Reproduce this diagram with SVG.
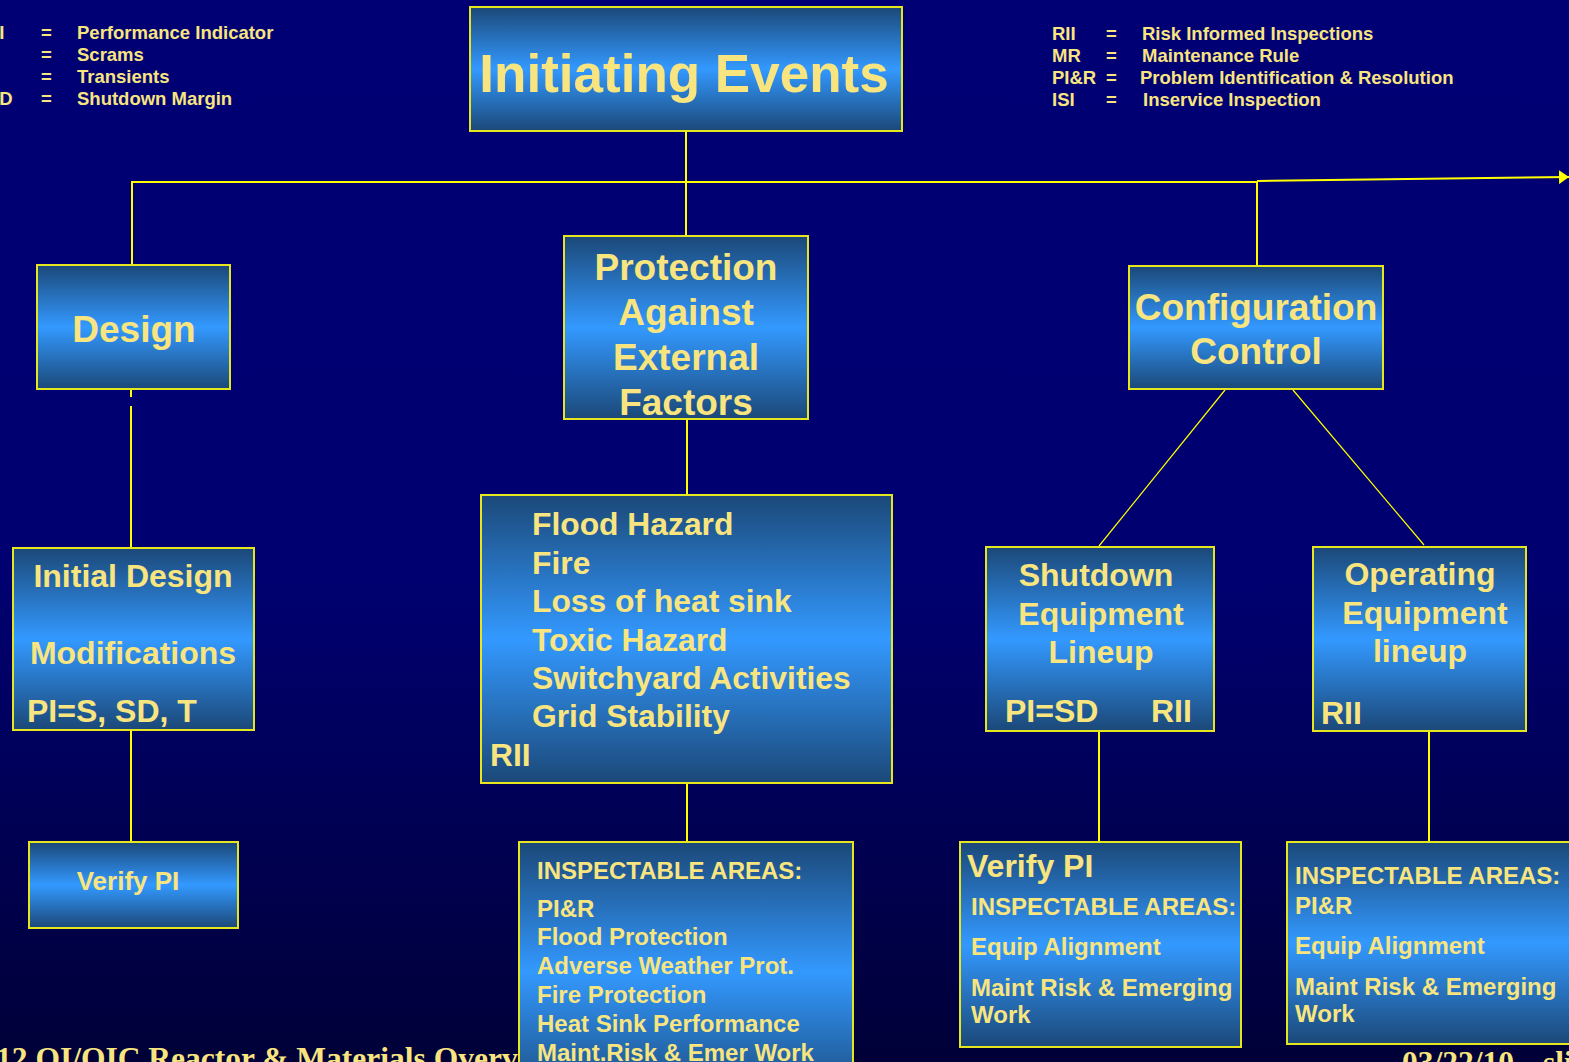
<svg xmlns="http://www.w3.org/2000/svg" width="1569" height="1062" viewBox="0 0 1569 1062">
  <defs>
    <linearGradient id="bg" x1="0" y1="0" x2="0" y2="1">
      <stop offset="0" stop-color="#000074"/>
      <stop offset="0.55" stop-color="#000070"/>
      <stop offset="1" stop-color="#000038"/>
    </linearGradient>
    <linearGradient id="boxGrad" x1="0" y1="0" x2="0" y2="1">
      <stop offset="0" stop-color="#1b4878"/>
      <stop offset="0.5" stop-color="#3399ff"/>
      <stop offset="1" stop-color="#1b4878"/>
    </linearGradient>
    <marker id="arrow" viewBox="0 0 10 14" refX="10" refY="7" markerWidth="10" markerHeight="14" markerUnits="userSpaceOnUse" orient="auto">
      <path d="M0,0 L10,7 L0,14 Z" fill="#ffff00"/>
    </marker>
    <style>
      .box { fill: url(#boxGrad); stroke: #e6e61e; stroke-width: 2; }
      .t { font-family: "Liberation Sans", Arial, sans-serif; font-weight: bold; fill: #f8e580; }
      .c { text-anchor: middle; }
      .leg { font-size: 18.5px; }
      .h37 { font-size: 37px; }
      .h32 { font-size: 32px; }
      .h24 { font-size: 24px; }
      .foot { font-family: "Liberation Serif", "Times New Roman", serif; font-weight: bold; fill: #f8e580; font-size: 31.5px; }
      .wire { stroke: #ffff00; stroke-width: 2; fill: none; }
      .thin { stroke: #ffff00; stroke-width: 1.2; fill: none; }
    </style>
  </defs>

  <rect x="0" y="0" width="1569" height="1062" fill="url(#bg)"/>

  <!-- abbreviation legends (left column runs past the left edge) -->
  <g id="legend-left" class="t leg">
    <text x="-13" y="39">PI</text><text x="41" y="39">=</text><text x="77" y="39">Performance Indicator</text>
    <text x="-13" y="61">S</text><text x="41" y="61">=</text><text x="77" y="61">Scrams</text>
    <text x="-13" y="83">T</text><text x="41" y="83">=</text><text x="77" y="83">Transients</text>
    <text x="-13" y="105">SD</text><text x="41" y="105">=</text><text x="77" y="105">Shutdown Margin</text>
  </g>
  <g id="legend-right" class="t leg">
    <text x="1052" y="40">RII</text><text x="1106" y="40">=</text><text x="1142" y="40">Risk Informed Inspections</text>
    <text x="1052" y="62">MR</text><text x="1106" y="62">=</text><text x="1142" y="62">Maintenance Rule</text>
    <text x="1052" y="84">PI&amp;R</text><text x="1106" y="84">=</text><text x="1140" y="84">Problem Identification &amp; Resolution</text>
    <text x="1052" y="106">ISI</text><text x="1106" y="106">=</text><text x="1143" y="106">Inservice Inspection</text>
  </g>

  <!-- footer -->
  <text id="footer-left" class="foot" x="-4" y="1069">12 OI/OIC Reactor &amp; Materials Overview</text>
  <text id="footer-right" class="foot" x="1402" y="1073">03/22/10<tspan x="1543">slide</tspan></text>

  <!-- connectors -->
  <g id="connectors">
    <line class="wire" x1="686" y1="132" x2="686" y2="236"/>
    <polyline class="wire" points="132,265 132,182 1257,182 1257,265"/>
    <line class="wire" x1="1257" y1="181" x2="1569" y2="177" marker-end="url(#arrow)"/>
    <line class="wire" x1="131" y1="390" x2="131" y2="397"/>
    <line class="wire" x1="131" y1="406" x2="131" y2="547"/>
    <line class="wire" x1="131" y1="731" x2="131" y2="842"/>
    <line class="wire" x1="687" y1="419" x2="687" y2="494"/>
    <line class="wire" x1="687" y1="784" x2="687" y2="842"/>
    <line class="thin" x1="1225" y1="390" x2="1099" y2="546"/>
    <line class="thin" x1="1293" y1="390" x2="1424" y2="545"/>
    <line class="wire" x1="1099" y1="731" x2="1099" y2="842"/>
    <line class="wire" x1="1429" y1="731" x2="1429" y2="842"/>
  </g>

  <!-- nodes -->
  <g id="initiating-events">
    <rect class="box" x="470" y="7" width="432" height="124"/>
    <text class="t c" x="684" y="92" font-size="53">Initiating Events</text>
  </g>

  <g id="design">
    <rect class="box" x="37" y="265" width="193" height="124"/>
    <text class="t c h37" x="134" y="342">Design</text>
  </g>

  <g id="protection">
    <rect class="box" x="564" y="236" width="244" height="183"/>
    <text class="t c h37" x="686" y="280">Protection</text>
    <text class="t c h37" x="686" y="325">Against</text>
    <text class="t c h37" x="686" y="370">External</text>
    <text class="t c h37" x="686" y="415">Factors</text>
  </g>

  <g id="configuration-control">
    <rect class="box" x="1129" y="266" width="254" height="123"/>
    <text class="t c h37" x="1256" y="320">Configuration</text>
    <text class="t c h37" x="1256" y="364">Control</text>
  </g>

  <g id="initial-design">
    <rect class="box" x="13" y="548" width="241" height="182"/>
    <text class="t c h32" x="133" y="587">Initial Design</text>
    <text class="t c h32" x="133" y="664">Modifications</text>
    <text class="t h32" x="27" y="722">PI=S, SD, T</text>
  </g>

  <g id="external-hazards">
    <rect class="box" x="481" y="495" width="411" height="288"/>
    <g class="t" font-size="31.8">
      <text x="532" y="535">Flood Hazard</text>
      <text x="532" y="574">Fire</text>
      <text x="532" y="612">Loss of heat sink</text>
      <text x="532" y="651">Toxic Hazard</text>
      <text x="532" y="689">Switchyard Activities</text>
      <text x="532" y="727">Grid Stability</text>
      <text x="490" y="766">RII</text>
    </g>
  </g>

  <g id="shutdown-lineup">
    <rect class="box" x="986" y="547" width="228" height="184"/>
    <text class="t c h32" x="1096" y="586">Shutdown</text>
    <text class="t c h32" x="1101" y="625">Equipment</text>
    <text class="t c h32" x="1101" y="663">Lineup</text>
    <text class="t h32" x="1005" y="722">PI=SD</text>
    <text class="t h32" x="1151" y="722">RII</text>
  </g>

  <g id="operating-lineup">
    <rect class="box" x="1313" y="547" width="213" height="184"/>
    <text class="t c h32" x="1420" y="585">Operating</text>
    <text class="t c h32" x="1425" y="624">Equipment</text>
    <text class="t c h32" x="1420" y="662">lineup</text>
    <text class="t h32" x="1321" y="724">RII</text>
  </g>

  <g id="verify-pi-design">
    <rect class="box" x="29" y="842" width="209" height="86"/>
    <text class="t c" x="128" y="890" font-size="26">Verify PI</text>
  </g>

  <g id="inspectable-external">
    <rect class="box" x="519" y="842" width="334" height="260"/>
    <g class="t h24">
      <text x="537" y="879">INSPECTABLE AREAS:</text>
      <text x="537" y="917">PI&amp;R</text>
      <text x="537" y="945">Flood Protection</text>
      <text x="537" y="974">Adverse Weather Prot.</text>
      <text x="537" y="1003">Fire Protection</text>
      <text x="537" y="1032">Heat Sink Performance</text>
      <text x="537" y="1061">Maint.Risk &amp; Emer Work</text>
    </g>
  </g>

  <g id="verify-shutdown">
    <rect class="box" x="960" y="842" width="281" height="205"/>
    <text class="t h32" x="967" y="877">Verify PI</text>
    <g class="t h24">
      <text x="971" y="915">INSPECTABLE AREAS:</text>
      <text x="971" y="955">Equip Alignment</text>
      <text x="971" y="996">Maint Risk &amp; Emerging</text>
      <text x="971" y="1023">Work</text>
    </g>
  </g>

  <g id="inspectable-operating">
    <rect class="box" x="1287" y="842" width="300" height="202"/>
    <g class="t h24">
      <text x="1295" y="884">INSPECTABLE AREAS:</text>
      <text x="1295" y="914">PI&amp;R</text>
      <text x="1295" y="954">Equip Alignment</text>
      <text x="1295" y="995">Maint Risk &amp; Emerging</text>
      <text x="1295" y="1022">Work</text>
    </g>
  </g>
</svg>
